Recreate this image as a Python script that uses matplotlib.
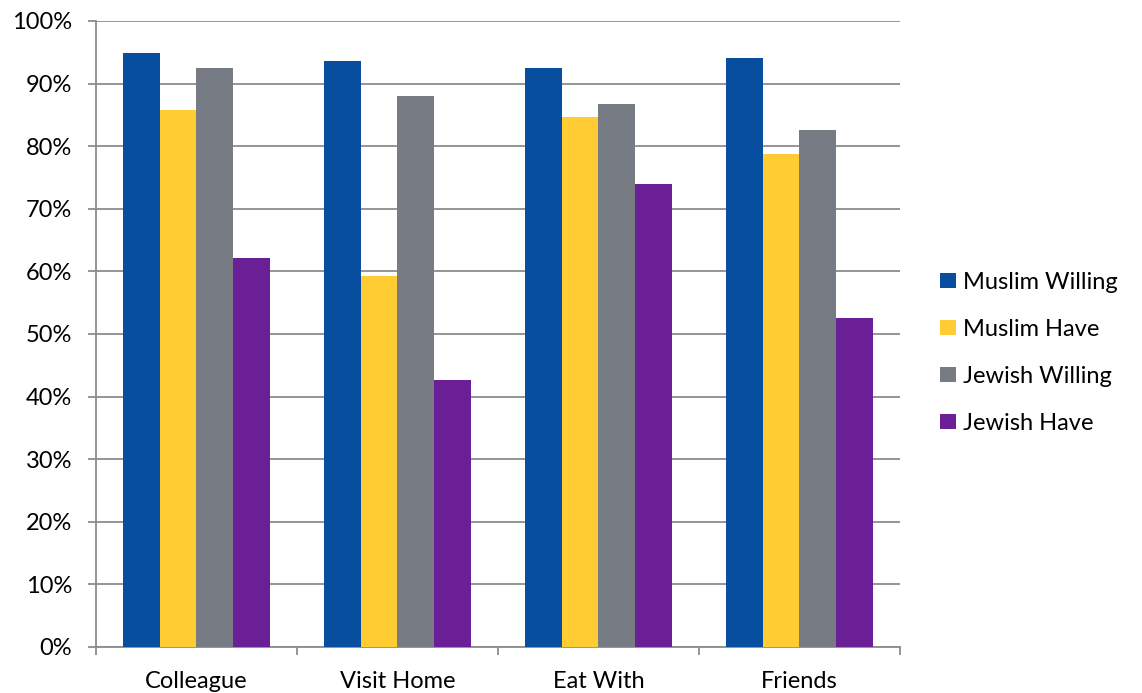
import numpy as np
import matplotlib
matplotlib.use('Agg')
import matplotlib.pyplot as plt
from matplotlib.ticker import FuncFormatter

plt.rcParams['font.family'] = ['Lato', 'DejaVu Sans']

categories = ['Colleague', 'Visit Home', 'Eat With', 'Friends']
series_names = ['Muslim Willing', 'Muslim Have', 'Jewish Willing', 'Jewish Have']
muslim_willing = [94.9, 93.6, 92.5, 94.1]
muslim_have = [85.8, 59.3, 84.7, 78.8]
jewish_willing = [92.5, 88.0, 86.7, 82.6]
jewish_have = [62.1, 42.7, 74.0, 52.6]
colors = ['#084E9E', '#FFCC33', '#777B84', '#6A1F96']

fig = plt.figure(figsize=(11.42, 6.93), dpi=100)
ax = fig.add_axes([0.084, 0.0664, 0.704, 0.9033])

x = np.arange(len(categories))
w = 0.182
data = [muslim_willing, muslim_have, jewish_willing, jewish_have]
for i, (vals, name, c) in enumerate(zip(data, series_names, colors)):
    ax.bar(x + (i - 1.5) * w, vals, w, color=c, label=name, zorder=3)

ax.set_xlim(-0.5, 3.5)
ax.set_ylim(0, 100)
ax.set_yticks(np.arange(0, 101, 10))
ax.yaxis.set_major_formatter(FuncFormatter(lambda v, p: '%d%%' % v))
ax.grid(axis='y', color='#8c8c8c', linewidth=1.3, zorder=0)

ax.set_xticks(x)
ax.set_xticklabels(categories)
ax.set_xticks(np.arange(-0.5, 3.6, 1), minor=True)
ax.tick_params(axis='x', which='major', length=0, labelsize=17, pad=17)
ax.tick_params(axis='x', which='minor', length=6, width=1.3, color='#8c8c8c')
ax.tick_params(axis='y', length=6, width=1.3, color='#8c8c8c', labelsize=17, pad=11)

for s in ['top', 'right']:
    ax.spines[s].set_visible(False)
for s in ['left', 'bottom']:
    ax.spines[s].set_color('#8c8c8c')
    ax.spines[s].set_linewidth(1.3)

ax.legend(loc='center left', bbox_to_anchor=(1.024, 0.47), frameon=False,
          fontsize=17, handlelength=0.65, handleheight=0.65, handletextpad=0.3,
          labelspacing=1.1)

fig.savefig('out.png', dpi=100)
